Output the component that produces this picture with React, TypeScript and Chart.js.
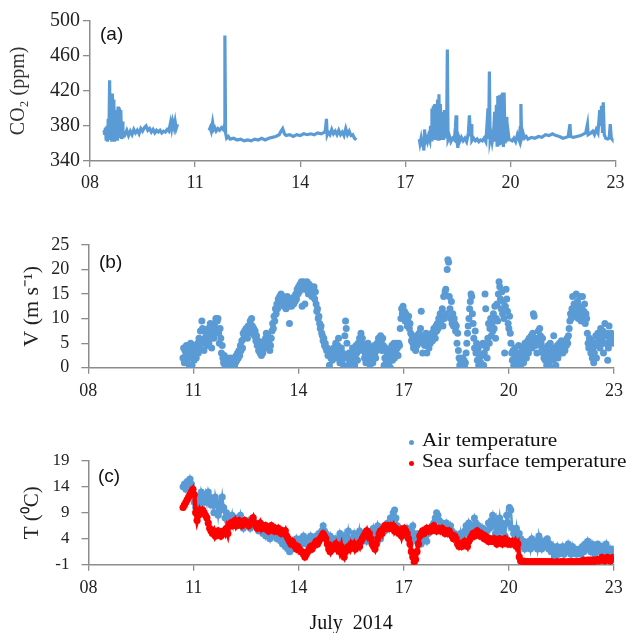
import React, { useEffect, useRef } from "react";
import { Chart, registerables } from "chart.js";
Chart.register(...registerables);

// ---------- data ----------
const xTickDays = [8, 11, 14, 17, 20, 23];
const xTickLabels = ["08", "11", "14", "17", "20", "23"];
const co2Ticks = [340, 380, 420, 460, 500];
const windTicks = [0, 5, 10, 15, 20, 25];
const tempTicks = [-1, 4, 9, 14, 19];

// CO2 (ppm), [day of July, value]
const co2Seg1: [number, number][] = [
  [8.40, 375], [8.42, 370], [8.44, 378], [8.46, 365], [8.48, 380], [8.50, 362], [8.52, 388], [8.54, 368],
  [8.56, 432], [8.58, 364], [8.60, 395], [8.62, 362], [8.64, 417], [8.66, 366], [8.68, 410], [8.70, 362],
  [8.72, 392], [8.74, 368], [8.76, 398], [8.78, 363], [8.80, 402], [8.82, 366], [8.84, 400], [8.86, 368],
  [8.88, 398], [8.90, 365], [8.92, 385], [8.94, 366], [8.96, 372], [9.00, 370], [9.05, 375], [9.10, 369],
  [9.15, 374], [9.20, 370], [9.25, 376], [9.30, 372], [9.35, 375], [9.40, 371], [9.45, 377], [9.50, 374],
  [9.55, 378], [9.60, 380], [9.65, 375], [9.70, 377], [9.75, 373], [9.80, 376], [9.85, 372], [9.90, 375],
  [9.95, 373], [10.00, 375], [10.05, 372], [10.10, 374], [10.15, 373], [10.20, 376], [10.25, 374],
  [10.30, 384], [10.33, 377], [10.36, 385], [10.40, 378], [10.43, 385], [10.46, 377], [10.50, 382],
];
const co2Seg2: [number, number][] = [
  [11.40, 375], [11.43, 378], [11.46, 374], [11.50, 384], [11.53, 376], [11.56, 378], [11.60, 374],
  [11.65, 377], [11.70, 375], [11.75, 378], [11.80, 376], [11.83, 380], [11.85, 483], [11.87, 372],
  [11.90, 366], [11.95, 368], [12.00, 365], [12.10, 366], [12.20, 364], [12.30, 365], [12.40, 363],
  [12.50, 364], [12.60, 363], [12.70, 365], [12.80, 364], [12.90, 366], [13.00, 364], [13.10, 366],
  [13.20, 367], [13.30, 368], [13.40, 370], [13.45, 374], [13.50, 377], [13.55, 371], [13.60, 369],
  [13.70, 370], [13.80, 368], [13.90, 370], [14.00, 369], [14.10, 371], [14.20, 370], [14.30, 371],
  [14.40, 370], [14.50, 372], [14.60, 371], [14.70, 373], [14.72, 376], [14.75, 388], [14.77, 370],
  [14.80, 373], [14.85, 370], [14.90, 376], [14.95, 371], [15.00, 374], [15.05, 370], [15.10, 375],
  [15.15, 370], [15.20, 373], [15.25, 369], [15.30, 377], [15.35, 370], [15.40, 374], [15.45, 369],
  [15.50, 370], [15.55, 366], [15.60, 364],
];
const co2Seg3: [number, number][] = [
  [17.40, 365], [17.42, 360], [17.45, 366], [17.48, 358], [17.50, 364], [17.53, 352], [17.55, 376],
  [17.57, 362], [17.60, 366], [17.63, 362], [17.66, 368], [17.70, 363], [17.72, 380], [17.74, 364],
  [17.76, 400], [17.78, 365], [17.80, 403], [17.82, 366], [17.84, 405], [17.86, 364], [17.88, 404],
  [17.90, 368], [17.92, 410], [17.94, 365], [17.96, 416], [17.98, 366], [18.00, 405], [18.03, 364],
  [18.06, 396], [18.09, 364], [18.12, 398], [18.15, 366], [18.18, 374], [18.20, 467], [18.22, 364],
  [18.26, 368], [18.30, 362], [18.35, 366], [18.40, 364], [18.43, 378], [18.45, 392], [18.47, 366],
  [18.50, 355], [18.52, 368], [18.56, 363], [18.60, 367], [18.65, 363], [18.70, 366], [18.75, 362],
  [18.80, 372], [18.83, 392], [18.86, 368], [18.88, 382], [18.90, 363], [18.95, 366], [19.00, 363],
  [19.05, 365], [19.10, 362], [19.15, 364], [19.20, 363], [19.25, 366], [19.30, 362], [19.33, 380],
  [19.36, 400], [19.38, 365], [19.40, 442], [19.42, 364], [19.45, 370], [19.48, 362], [19.52, 372],
  [19.55, 396], [19.57, 362], [19.60, 404], [19.62, 358], [19.64, 414], [19.66, 362], [19.68, 415],
  [19.70, 358], [19.72, 380], [19.74, 416], [19.76, 360], [19.78, 418], [19.80, 356], [19.82, 418],
  [19.85, 360], [19.88, 390], [19.90, 362], [19.93, 375], [19.96, 365], [20.00, 364], [20.05, 363],
  [20.10, 366], [20.15, 362], [20.20, 370], [20.25, 364], [20.28, 378], [20.30, 405], [20.32, 366],
  [20.36, 372], [20.40, 366], [20.45, 368], [20.50, 365], [20.60, 367], [20.70, 366], [20.80, 368],
  [20.90, 367], [21.00, 370], [21.10, 369], [21.20, 371], [21.30, 369], [21.40, 368], [21.50, 366],
  [21.60, 367], [21.65, 368], [21.70, 382], [21.72, 368], [21.80, 367], [21.90, 368], [22.00, 369],
  [22.10, 371], [22.15, 372], [22.20, 382], [22.22, 370], [22.30, 372], [22.35, 374], [22.40, 370],
  [22.45, 376], [22.50, 372], [22.55, 398], [22.58, 380], [22.60, 403], [22.63, 372], [22.65, 407],
  [22.68, 370], [22.72, 366], [22.78, 365], [22.82, 366], [22.85, 382], [22.88, 366], [22.90, 365],
];

// Wind speed V (m/s), sampled every 0.02 day starting 10.70
const windStart = 10.7;
const windStep = 0.02;
const windValues = [
  2, 4, 1, 3.5, 2.5, 4.5, 1.5, 3, 4, 0.5, 2, 5, 3, 0.5, 2.5,
  4, 1.5, 3, 4.5, 2, 3.5, 5, 3, 6, 4, 7.5, 5, 9.5, 8, 5.5, 3.5, 6, 5, 7, 4.5, 6.5, 8, 5, 7, 9, 6, 4, 7.5, 8.5, 6, 9, 7, 10, 8, 9.5, 10, 7, 5, 8, 6, 3, 4.5, 2, 1, 2.5, 0.5, 1.5, 0, 2, 1,
  0.5, 1.5, 0, 2, 1, 0, 1.5, 0.5, 2, 0, 1, 2.5, 1.5, 3, 2, 3.5, 2.5, 4.5, 3.5, 5.5, 4, 7, 6, 7.5, 6.5, 8, 7, 6, 8.5, 7, 8, 9.5, 7.5, 10, 8.5, 7, 8, 6.5, 7.5, 5.5, 6.5, 4.5, 5.5, 3.5, 4.5, 3, 4, 2.5, 3.5, 3,
  4.5, 5.5, 4, 6, 7, 5, 6.5, 4, 5, 3.5, 4.5, 6, 7.5, 9, 8, 10.5, 9.5, 12, 11, 13, 12, 14, 13.5, 14.5, 13, 15, 14, 13, 14.5, 12.5, 14, 13, 12, 13.5, 14.5, 13, 12.5, 9, 13.5, 14, 12.5, 13.5, 14, 13, 14.5, 13.5, 15, 14, 16, 15,
  16.5, 15.5, 17, 16, 17.5, 12.5, 16.5, 17.5, 16, 13, 17, 16, 17.5, 16.5, 15, 17, 16, 15.5, 16.5, 14.5, 16, 15, 16.5, 14, 15.5, 13, 11.5, 12, 10, 10.5, 9, 8, 8.5, 7, 6.5, 5.5, 6, 4.5, 5, 4, 3.5, 4, 2.5, 3, 0.5, 3.5, 2, 3, 1.5, 2.5,
  4, 3, 2, 5, 3.5, 2, 4.5, 6, 3, 1, 2.5, 4, 1.5, 3, 0.5, 2, 6.5, 9.5, 8, 5, 2, 0.5, 3, 1, 2.5, 0, 1.5, 4, 2, 3, 0.5, 2.5, 4.5, 3, 1.5, 5, 3.5, 6, 4, 7, 5, 6, 3.5, 4.5, 2, 3, 1, 4, 2.5, 5,
  3, 1.5, 0.5, 2, 4, 3, 1, 2.5, 4.5, 3, 2, 3.5, 5, 4, 6, 5, 4, 6.5, 5.5, 3.5, 6, 4.5, 0.5, 2, 4, 1.5, 3, 0.5, 2.5, 1, 3.5, 0, 2, 4.5, 1.5, 3, 5, 2, 4, 3, 5, 4, 2.5, 5, 4.5, 8, 10, 12, 11, 12.5,
  10.5, 11.5, 9.5, 11, 10, 8.5, 9.5, 10.5, 8, 9, 7, 5.5, 6.5, 5, 4, 6, 5, 3.5, 6.5, 4.5, 6, 5, 7, 5.5, 8, 11.5, 6, 3, 5, 6.5, 4.5, 5.5, 7, 3, 5, 6, 4, 6.5, 5, 6, 7, 5.5, 6.5, 8, 7, 6, 8.5, 7.5, 9, 8,
  10, 9, 11, 9.5, 10.5, 12, 8.5, 14.5, 10, 15.5, 16, 11, 20, 22, 21.5, 14.5, 12, 10, 13.5, 9, 11, 8.5, 10, 9, 7.5, 8.5, 5, 7, 3.5, 2, 0.5, 1.5, 0, 1, 2, 0.5, 1.5, 0, 1, 3, 5, 7, 8.5, 10, 12, 13.5, 15, 14.5, 11, 9,
  6, 4, 7.5, 3, 5, 1.5, 3.5, 0.5, 2, 4.5, 1, 0, 2.5, 5, 0.5, 3, 15, 12, 4, 2, 6, 9, 5, 8, 10, 6.5, 9, 7.5, 11, 8, 12.5, 6, 10, 13, 9.5, 15, 17.5, 16.5, 14, 12, 15.5, 11, 13.5, 10, 3, 12.5, 16, 14, 11.5, 9,
  8, 10.5, 7, 5, 3, 1.5, 3.5, 0.5, 2, 4, 1, 3, 0.5, 2.5, 4.5, 1.5, 3, 0.5, 2, 4, 3, 1, 2.5, 5, 3.5, 2, 4, 5.5, 3, 6, 4.5, 5, 6.5, 4, 7, 11, 10.5, 6, 4.5, 5.5, 3, 6, 7.5, 5, 8, 6.5, 5, 4, 6, 3,
  2, 4, 1.5, 3.5, 0.5, 2, 4.5, 1, 3, 5, 2.5, 0, 3.5, 1.5, 6.5, 4, 2, 0.5, 3, 4.5, 2, 3.5, 5, 4, 3, 5.5, 4, 3, 5, 4.5, 3.5, 5.5, 4.5, 6, 5, 6.5, 8, 9.5, 11, 10, 12, 14.5, 11, 13, 10.5, 12, 15, 11.5, 13.5, 10,
  12.5, 14.5, 11, 9.5, 12, 14.5, 10, 11.5, 13, 9, 11, 10, 7, 5, 4, 6, 4.5, 3, 5.5, 2, 4, 1, 3, 5, 6.5, 2, 4.5, 7, 5.5, 6.5, 4, 8, 5, 6, 7.5, 3, 5, 9, 6.5, 5, 7, 1.5, 4, 8.5, 6, 5, 7, 6.5, 5.5, 6,
  5,
];

// Temperatures (deg C), sampled every 0.04 day starting 10.70
const tempStart = 10.7;
const tempStep = 0.04;
const airTemp = [
  14, 14.5, 13.5, 15, 14, 15.5, 14.5, 13.5,
  11, 10, 11.5, 12, 10.5, 13, 12, 11, 12.5, 11, 13, 12, 10.5,
  11.5, 9, 12, 10.5, 8.5, 11, 9.5, 12, 10, 8, 9, 7.5,
  8, 7, 8.5, 6.5, 7.5, 8, 6.5, 7, 8.5, 7, 6, 7.5, 7,
  6.5, 7.5, 6, 7, 8, 6.5, 7, 6, 5.5, 7, 6, 5,
  5.5, 4.5, 6, 5, 4, 5.5, 4.5, 6, 5, 4, 5.5, 4.5, 3.5,
  3, 4.5, 2.5, 3.5, 2, 1.5, 3, 2, 3.5, 2.5, 4, 3,
  3.5, 4, 3, 4.5, 3.5, 3, 4, 3.5, 4.5, 3, 4, 3.5, 4.5,
  4, 5, 4.5, 5.5, 6.5, 5.5, 5, 4, 3.5, 4.5, 3, 4,
  3, 4, 2.5, 3.5, 5, 4, 3, 4.5, 2.5, 3.5, 5.5, 4, 3,
  4, 5, 3.5, 4.5, 3, 5.5, 4, 3.5, 5, 4.5, 3.5, 5,
  4.5, 5.5, 4, 6, 5, 4.5, 6.5, 5.5, 4, 5, 6, 5.5, 6.5,
  7, 6, 8, 7.5, 9, 9.5, 8, 6.5, 5.5, 6, 5, 4.5,
  5.5, 4.5, 6, 5, 4, 5.5, 6.5, 5, 4, 3.5, 5, 4.5, 3,
  4, 5.5, 4.5, 3.5, 5, 6, 5.5, 6.5, 7, 8, 9, 8.5,
  7.5, 6.5, 7, 6, 5.5, 7, 6, 5, 6.5, 5.5, 4.5, 5, 4,
  4.5, 3.5, 5, 3, 4, 5.5, 6.5, 5, 7, 6, 4.5, 6.5,
  8, 7, 5.5, 6.5, 5, 4.5, 6, 5, 4, 5.5, 7, 6, 7.5,
  8.5, 6.5, 5, 7.5, 6, 8, 5.5, 7, 6.5, 4.5, 8.5, 7,
  10, 9.5, 6, 5, 4, 6, 3.5, 5, 4, 2.5, 3.5, 2, 3,
  2.5, 3.5, 2, 4, 3, 2.5, 3.5, 2, 4.5, 3, 2, 3.5,
  2.5, 3.5, 4, 2, 3, 1.5, 2.5, 0.5, 1.5, 2.5, 1, 2, 1.5,
  2.5, 1, 2, 1.5, 3, 2, 1, 2.5, 1.5, 2, 1, 1.5,
  2, 1, 2.5, 1.5, 3, 2, 3.5, 2.5, 1.5, 3, 2, 1, 2.5,
  3, 2, 1.5, 2.5, 1, 2, 3, 1.5, 0.5, 2, 1, 2,
];
const seaTemp = [
  10, 10.5, 11, 11.5, 12, 12.5, 13, 13.5,
  12.5, 9, 7.5, 8.5, 9.5, 9, 9.5, 9, 8.5, 8, 7, 6, 5.5,
  5, 5.5, 4.5, 5, 5.5, 5, 4.5, 5, 5.5, 5, 6, 5,
  6.5, 7, 6.5, 7, 7.5, 6.5, 7, 7.5, 7, 6.5, 7, 7.5, 7,
  7, 6.5, 7, 7.5, 8, 7, 6.5, 6, 6.5, 7, 6, 6.5,
  6, 6.5, 6, 5.5, 6, 6.5, 6, 5.5, 6, 5.5, 6, 5.5, 5,
  5.5, 5, 5.5, 4.5, 4, 3.5, 3, 3.5, 3, 2.5, 2, 2.5,
  2, 1.5, 1.5, 1, 0.5, 1, 1.5, 2, 2.5, 2, 2.5, 3, 3.5,
  3, 3.5, 4, 4.5, 5, 4.5, 4, 3, 2, 1.5, 2.5, 2,
  2.5, 3, 2, 2.5, 1.5, 2.5, 1, 0.5, 1.5, 2, 2.5, 2, 3,
  2.5, 3, 2, 2.5, 3, 2.5, 3.5, 4, 4.5, 5, 5.5, 4.5,
  5, 4, 3, 2.5, 2, 3, 4, 5, 5.5, 5, 6, 6.5, 6,
  6.5, 6, 6.5, 6, 6.5, 5.5, 6, 5.5, 5, 5.5, 4.5, 5.5,
  6, 5.5, 5, 4, 3, 1.5, 0.5, -0.5, 0, 1.5, 3, 4.5, 5,
  5.5, 5, 5.5, 6, 5.5, 6, 5.5, 6, 6.5, 6, 5.5, 6,
  6, 5.5, 6, 5.5, 5, 5.5, 5, 5.5, 5, 4.5, 4, 4.5, 4,
  3, 2.5, 3, 2.5, 3, 3.5, 3, 2.5, 3.5, 4, 4.5, 5,
  4.5, 5, 5.5, 5, 4.5, 5, 4.5, 4, 4.5, 4, 3.5, 4, 3.5,
  3.5, 4, 3.5, 3, 3.5, 4, 3.5, 3, 3.5, 4, 3.5, 3,
  3.5, 3, 3.5, 3, 3.5, 2.5, 3, 0.5, -0.3, -0.4, -0.3, -0.6, -0.4,
  -0.4, -0.7, -0.4, -0.4, -0.7, -0.4, -0.4, -0.7, -0.4, -0.4, -0.7, -0.4,
  -0.7, -0.4, -0.7, -0.4, -0.7, -0.4, -0.7, -0.8, -0.7, -0.4, -0.7, -0.7, -0.4,
  -0.7, -0.4, -0.7, -0.7, -0.4, -0.7, -0.4, -0.7, -0.4, -0.7, -0.4, -0.4,
  -0.4, -0.7, -0.4, -0.1, -0.4, -0.4, -0.1, -0.4, -0.1, -0.4, -0.1, -0.4, -0.1,
  0, -0.3, 0, 0.4, 0, -0.3, 0, 0.4, 0, -0.3, 0, 0.4,
];

// ---------- styling ----------
const SERIF = "'Liberation Serif', 'Times New Roman', serif";
const SANS = "'Liberation Sans', Arial, sans-serif";
const AXIS = "#8c8c8c";
const TXT = "#222222";
const BLUE = "#5b9bd5";
const RED = "#ff0000";

function xScale(height: number, pad: number, title?: any) {
  return {
    type: "linear",
    min: 8,
    max: 23,
    afterBuildTicks: (s: any) => {
      s.ticks = xTickDays.map((v) => ({ value: v }));
    },
    ticks: {
      callback: (v: any) => xTickLabels[xTickDays.indexOf(v)] ?? "",
      font: { family: SERIF, size: 18 },
      color: TXT,
      padding: pad,
      maxRotation: 0,
      autoSkip: false,
    },
    grid: { drawOnChartArea: false, drawTicks: true, tickLength: 6, color: AXIS, lineWidth: 1.3 },
    border: { display: true, color: AXIS, width: 1.5 },
    title: title ?? { display: false },
    afterFit: (s: any) => {
      s.height = height;
    },
  };
}

function yScale(
  min: number,
  max: number,
  ticks: number[],
  fontSize: number,
  pad: number,
  width: number,
  title: any
) {
  return {
    type: "linear",
    min,
    max,
    afterBuildTicks: (s: any) => {
      s.ticks = ticks.map((v) => ({ value: v }));
    },
    ticks: {
      callback: (v: any) => String(v),
      font: { family: SERIF, size: fontSize },
      color: TXT,
      padding: pad,
      autoSkip: false,
    },
    grid: { drawOnChartArea: false, drawTicks: true, tickLength: 7, color: AXIS, lineWidth: 1.3 },
    border: { display: true, color: AXIS, width: 1.5 },
    title,
    afterFit: (s: any) => {
      s.width = width;
    },
  };
}

const baseOptions = (padding: any, scales: any) => ({
  animation: false,
  responsive: false,
  maintainAspectRatio: false,
  events: [],
  layout: { padding },
  plugins: { legend: { display: false }, tooltip: { enabled: false } },
  scales,
});

export default function App() {
  const refA = useRef<HTMLCanvasElement>(null);
  const refB = useRef<HTMLCanvasElement>(null);
  const refC = useRef<HTMLCanvasElement>(null);

  useEffect(() => {
    const charts: Chart[] = [];

    charts.push(
      new Chart(refA.current as HTMLCanvasElement, {
        type: "line",
        data: {
          datasets: [co2Seg1, co2Seg2, co2Seg3].map((seg) => ({
            data: seg.map(([x, y]) => ({ x, y })),
            borderColor: BLUE,
            borderWidth: 3.2,
            pointRadius: 0,
            tension: 0,
          })),
        },
        options: baseOptions(
          { top: 20.7, right: 10.5, left: 0, bottom: 0 },
          {
            x: xScale(39, 5.5),
            y: yScale(340, 500, co2Ticks, 20, 3, 90, {
              display: true,
              text: "CO₂ (ppm)",
              color: "#333",
              font: { family: SERIF, size: 20 },
              padding: { top: 7, bottom: 0 },
            }),
          }
        ) as any,
      })
    );

    charts.push(
      new Chart(refB.current as HTMLCanvasElement, {
        type: "scatter",
        data: {
          datasets: [
            {
              data: windValues.map((v, i) => ({ x: windStart + i * windStep, y: v })),
              backgroundColor: BLUE,
              borderWidth: 0,
              pointRadius: 3.5,
            },
          ],
        },
        options: baseOptions(
          { top: 45, right: 12, left: 0, bottom: 0 },
          {
            x: xScale(42.3, 7),
            y: yScale(0, 25, windTicks, 18, 12, 88.3, {
              display: true,
              text: "V (m s⁻¹)",
              color: "#222",
              font: { family: SERIF, size: 22 },
              padding: { top: 19, bottom: 0 },
            }),
          }
        ) as any,
      })
    );

    charts.push(
      new Chart(refC.current as HTMLCanvasElement, {
        type: "scatter",
        data: {
          datasets: [
            {
              label: "Sea surface temperature",
              data: seaTemp.map((v, i) => ({ x: tempStart + i * tempStep, y: v })),
              backgroundColor: RED,
              borderColor: RED,
              showLine: true,
              borderWidth: 4.5,
              pointBorderWidth: 0,
              pointRadius: 3.6,
            },
            {
              label: "Air temperature",
              data: airTemp.map((v, i) => ({ x: tempStart + i * tempStep, y: v })),
              backgroundColor: BLUE,
              borderColor: BLUE,
              showLine: true,
              borderWidth: 2.5,
              pointBorderWidth: 0,
              pointRadius: 3.5,
            },
          ],
        },
        options: baseOptions(
          { top: 50.7, right: 14, left: 0, bottom: 0 },
          {
            x: xScale(68.3, 7.2, {
              display: true,
              text: "July  2014",
              color: "#111",
              font: { family: SERIF, size: 20, lineHeight: 1 },
              padding: { top: 0, bottom: -1 },
            }),
            y: yScale(-1, 19, tempTicks, 17, 12, 88.5, {
              display: true,
              text: "T (⁰C)",
              color: "#222",
              font: { family: SERIF, size: 21 },
              padding: { top: 20, bottom: 0 },
            }),
          }
        ) as any,
      })
    );

    return () => charts.forEach((c) => c.destroy());
  }, []);

  const panelLabel = (text: string, left: number, top: number) => (
    <div
      style={{
        position: "absolute",
        left,
        top,
        fontFamily: SANS,
        fontSize: 19,
        lineHeight: "19px",
        color: "#111",
        whiteSpace: "nowrap",
      }}
    >
      {text}
    </div>
  );

  const dot = (color: string, cx: number, cy: number) => (
    <div
      style={{
        position: "absolute",
        left: cx - 2.5,
        top: cy - 2.5,
        width: 5,
        height: 5,
        borderRadius: "50%",
        background: color,
      }}
    />
  );

  return (
    <div
      style={{
        position: "absolute",
        left: 0,
        top: 0,
        width: 630,
        height: 633,
        background: "#fff",
        overflow: "hidden",
      }}
    >
      <canvas ref={refA} width={630} height={200} style={{ position: "absolute", left: 0, top: 0 }} />
      <canvas ref={refB} width={630} height={210} style={{ position: "absolute", left: 0, top: 200 }} />
      <canvas ref={refC} width={630} height={223} style={{ position: "absolute", left: 0, top: 410 }} />
      {panelLabel("(a)", 100, 23.9)}
      {panelLabel("(b)", 99, 251.9)}
      {panelLabel("(c)", 98, 466.4)}
      {dot(BLUE, 411.7, 442.7)}
      {dot(RED, 411.7, 463.3)}
      <div
        style={{
          position: "absolute",
          left: 422,
          top: 430,
          fontFamily: SERIF,
          fontSize: 18.5,
          lineHeight: "21px",
          color: "#111",
          whiteSpace: "nowrap",
          transform: "scaleX(1.15)",
          transformOrigin: "left top",
        }}
      >
        <div>Air temperature</div>
        <div>Sea surface temperature</div>
      </div>
    </div>
  );
}
